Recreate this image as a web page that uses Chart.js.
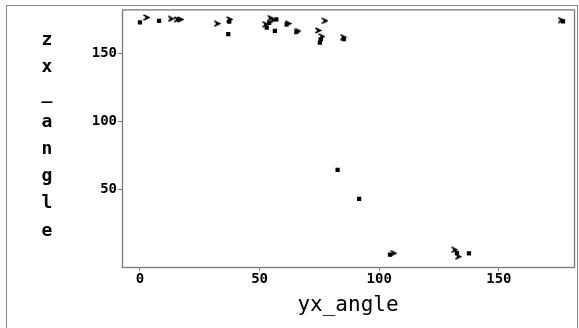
<!DOCTYPE html>
<html>
<head>
<meta charset="utf-8">
<script src="https://cdn.jsdelivr.net/npm/chart.js@4/dist/chart.umd.min.js"></script>
<style>
html,body{margin:0;padding:0;background:#fff;}
#wrap{width:579px;height:328px;position:relative;}
</style>
</head>
<body>
<div id="wrap"><canvas id="c" width="579" height="328"></canvas></div>
<script>
// Data
const squareX = [0, 8, 37.3, 36.9, 53, 54, 56.4, 57, 61.3, 65.4, 75.6, 75.2, 85.2, 82.6, 91.6, 104.5, 132.5, 137.5, 176.8];
const squareY = [172.8, 174, 173.5, 164.2, 169, 172.5, 166.7, 175, 171.5, 166, 160.5, 158, 160.5, 64.7, 43.4, 2.5, 3.5, 3.4, 173.7];
const arrowX = [2.8, 13, 15.5, 17, 32.3, 37.5, 54.5, 52.5, 55.5, 62, 66, 77.3, 74.5, 76, 85, 106, 131.5, 133, 176];
const arrowY = [176.5, 175.5, 175, 175, 172, 175, 176, 171.5, 174.5, 172, 166.5, 174, 167, 162.5, 162, 3.5, 6, 1, 174.5];
const xTicks = [0, 50, 100, 150];
const yTicks = [50, 100, 150];
const xTitle = 'yx_angle';
const yTitle = 'zx_angle';

function toPts(xs, ys){ return xs.map((x,i)=>({x:x, y:ys[i]})); }

// small arrow-like marker glyph
const arrowImg = document.createElement('canvas');
arrowImg.width = 7; arrowImg.height = 7;
(function(){
  const g = arrowImg.getContext('2d');
  g.strokeStyle = '#000'; g.lineWidth = 1.6;
  g.beginPath(); g.moveTo(0.5,1); g.lineTo(5.5,3.5); g.lineTo(0.5,6); g.stroke();
  g.fillStyle = '#000'; g.fillRect(2,2.5,3,2);
})();

const frame = {
  id: 'frame',
  beforeDraw(chart){
    const ctx = chart.ctx;
    ctx.save();
    ctx.fillStyle = '#fff';
    ctx.fillRect(0,0,chart.width,chart.height);
    ctx.strokeStyle = '#8a8a8a'; ctx.lineWidth = 1;
    ctx.strokeRect(6.5, 5.5, 571, 340);
    ctx.restore();
  },
  afterDraw(chart){
    const ctx = chart.ctx, a = chart.chartArea;
    ctx.save();
    ctx.strokeStyle = '#7a7a7a'; ctx.lineWidth = 1.3;
    ctx.strokeRect(a.left+0.5, a.top+0.5, a.right-a.left, a.bottom-a.top);
    // vertical stacked y title
    ctx.fillStyle = '#000';
    ctx.font = 'bold 18px "DejaVu Sans Mono"';
    ctx.textAlign = 'center'; ctx.textBaseline = 'middle';
    const letters = yTitle.split('');
    letters.forEach((ch,i)=>{ ctx.fillText(ch, 47, 40 + i*27.3); });
    ctx.restore();
  }
};

new Chart(document.getElementById('c'), {
  type: 'scatter',
  data: {
    datasets: [
      { data: toPts(squareX, squareY), pointStyle: 'rect', pointRadius: 3, pointBorderWidth: 0,
        backgroundColor: '#000', borderColor: '#000' },
      { data: toPts(arrowX, arrowY), pointStyle: arrowImg, pointRadius: 3,
        backgroundColor: '#000', borderColor: '#000' }
    ]
  },
  options: {
    responsive: false,
    animation: false,
    layout: { padding: { top: 9, right: 5, left: 0, bottom: 0 } },
    plugins: { legend: { display: false }, tooltip: { enabled: false } },
    scales: {
      x: {
        type: 'linear', min: -7.5, max: 181.4,
        afterBuildTicks: s => { s.ticks = xTicks.map(v => ({ value: v })); },
        afterFit: s => { s.height = 61; },
        grid: { drawOnChartArea: false, tickLength: 4, color: '#7a7a7a' },
        border: { display: false },
        ticks: { color: '#000', padding: 0, maxRotation: 0, font: { family: 'DejaVu Sans Mono', size: 14, weight: 'bold' } },
        title: { display: true, text: xTitle, color: '#000', padding: { top: 0, bottom: 10 },
                 font: { family: 'DejaVu Sans Mono', size: 21 } }
      },
      y: {
        type: 'linear', min: -6.6, max: 182.4,
        afterBuildTicks: s => { s.ticks = yTicks.map(v => ({ value: v })); },
        afterFit: s => { s.width = 122; },
        grid: { drawOnChartArea: false, tickLength: 4, color: '#7a7a7a' },
        border: { display: false },
        ticks: { color: '#000', padding: 1, font: { family: 'DejaVu Sans Mono', size: 14, weight: 'bold' } }
      }
    }
  },
  plugins: [frame]
});
</script>
</body>
</html>
